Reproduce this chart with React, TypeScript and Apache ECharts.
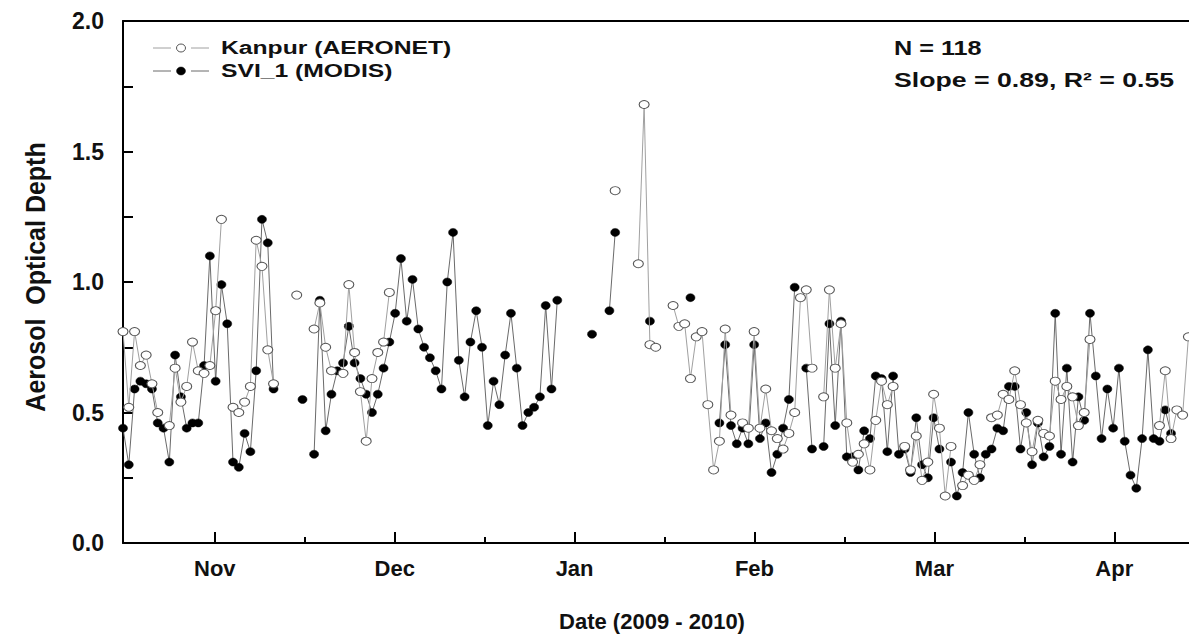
import React, { useEffect, useRef } from "react";
import * as echarts from "echarts";

// Day index (0 = first day on the axis) and AOD for each series
const aeronetDays = [0, 1, 2, 3, 4, 5, 6, 8, 9, 10, 11, 12, 13, 14, 15, 16, 17, 19, 20, 21, 22, 23, 24, 25, 26,
  30, 33, 34, 35, 36, 38, 39, 40, 41, 42, 43, 44, 45, 46,
  85, 89, 90, 91, 92, 95, 96, 97, 98, 99, 100, 101, 102, 103, 104, 105, 107, 108, 109, 110, 111, 112, 113, 114, 115, 116, 117, 118, 119,
  121, 122, 123, 124, 125, 126, 127, 128, 129, 130, 131, 132, 133, 135, 136, 137, 138, 139, 140, 141, 142, 143, 145, 146, 147, 148,
  150, 151, 152, 153, 154, 155, 156, 157, 158, 159, 160, 161, 162, 163, 164, 165, 166, 167,
  179, 180, 181, 182, 183, 184];
const aeronetAod = [0.81, 0.52, 0.81, 0.68, 0.72, 0.61, 0.50, 0.45, 0.67, 0.54, 0.60, 0.77, 0.66, 0.65, 0.68, 0.89, 1.24, 0.52, 0.50, 0.54, 0.60, 1.16, 1.06, 0.74, 0.61,
  0.95, 0.82, 0.92, 0.75, 0.66, 0.65, 0.99, 0.73, 0.58, 0.39, 0.63, 0.73, 0.77, 0.96,
  1.35, 1.07, 1.68, 0.76, 0.75, 0.91, 0.83, 0.84, 0.63, 0.79, 0.81, 0.53, 0.28, 0.39, 0.82, 0.49, 0.46, 0.44, 0.81, 0.44, 0.59, 0.43, 0.40, 0.36, 0.42, 0.50, 0.94, 0.97, 0.67,
  0.56, 0.97, 0.67, 0.84, 0.46, 0.31, 0.34, 0.38, 0.28, 0.47, 0.62, 0.53, 0.60, 0.37, 0.28, 0.41, 0.24, 0.31, 0.57, 0.44, 0.18, 0.37, 0.22, 0.26, 0.24, 0.30,
  0.48, 0.49, 0.57, 0.55, 0.66, 0.53, 0.46, 0.35, 0.47, 0.42, 0.41, 0.62, 0.55, 0.60, 0.56, 0.45, 0.50, 0.78,
  0.45, 0.66, 0.40, 0.51, 0.49, 0.79];

const modisDays = [0, 1, 2, 3, 4, 5, 6, 7, 8, 9, 10, 11, 12, 13, 14, 15, 16, 17, 18, 19, 20, 21, 22, 23, 24, 25, 26,
  31, 33, 34, 35, 36, 37, 38, 39, 40, 41, 42, 43, 44, 45, 46, 47, 48, 49, 50, 51, 52, 53, 54, 55, 56, 57, 58, 59, 60,
  61, 62, 63, 64, 65, 66, 67, 68, 69, 70, 71, 72, 73, 74, 75,
  81, 84, 85, 91, 98, 103, 104, 105, 106, 107, 108, 109, 110, 111, 112, 113, 114, 115, 116, 118, 119,
  121, 122, 123, 124, 125, 126, 127, 128, 129, 130, 131, 132, 133, 134, 135, 136, 137, 138, 139, 140, 141, 143, 144, 145,
  146, 147, 148, 149, 150, 151, 152, 153, 154, 155, 156, 157, 158, 159, 160, 161, 162, 163, 164, 165, 166, 167, 168, 169,
  170, 171, 172, 173, 174, 175, 176, 177, 178, 179, 180, 181];
const modisAod = [0.44, 0.30, 0.59, 0.62, 0.61, 0.59, 0.46, 0.44, 0.31, 0.72, 0.56, 0.44, 0.46, 0.46, 0.68, 1.10, 0.62, 0.99, 0.84, 0.31, 0.29, 0.42, 0.35, 0.66, 1.24, 1.15, 0.59,
  0.55, 0.34, 0.93, 0.43, 0.57, 0.66, 0.69, 0.83, 0.69, 0.63, 0.57, 0.50, 0.57, 0.67, 0.77, 0.88, 1.09, 0.85, 1.01, 0.82, 0.75, 0.71, 0.66, 0.59, 1.00, 1.19, 0.70, 0.56, 0.77,
  0.89, 0.75, 0.45, 0.62, 0.53, 0.72, 0.88, 0.67, 0.45, 0.50, 0.52, 0.56, 0.91, 0.59, 0.93,
  0.80, 0.89, 1.19, 0.85, 0.94, 0.46, 0.76, 0.45, 0.38, 0.44, 0.38, 0.76, 0.40, 0.46, 0.27, 0.34, 0.44, 0.55, 0.98, 0.67, 0.36,
  0.37, 0.84, 0.45, 0.85, 0.33, 0.33, 0.28, 0.43, 0.40, 0.64, 0.63, 0.35, 0.64, 0.34, 0.36, 0.27, 0.48, 0.30, 0.25, 0.48, 0.36, 0.31, 0.18, 0.27,
  0.50, 0.34, 0.25, 0.34, 0.36, 0.44, 0.43, 0.60, 0.60, 0.36, 0.50, 0.30, 0.46, 0.33, 0.37, 0.88, 0.34, 0.67, 0.31, 0.56, 0.47, 0.88, 0.64, 0.40,
  0.59, 0.44, 0.67, 0.39, 0.26, 0.21, 0.40, 0.74, 0.40, 0.39, 0.51, 0.42];

const monthLabels = ["Nov", "Dec", "Jan", "Feb", "Mar", "Apr"];
const seriesNames = ["Kanpur (AERONET)", "SVI_1 (MODIS)"];
const statsLines = ["N = 118", "Slope = 0.89, R² = 0.55"];

const DAY_COUNT = 185;
const X_MAX = 184.1;
const TICK_START = 15.85;
const TICK_STEP = 31.07;
const majorTicks = monthLabels.map((_, i) => TICK_START + i * TICK_STEP);
const minorTicks = monthLabels.slice(0, 5).map((_, i) => TICK_START + (i + 0.5) * TICK_STEP);

function toSeries(days: number[], vals: number[]) {
  const m = new Map<number, number>();
  days.forEach((d, i) => m.set(d, vals[i]));
  const out: any[] = [];
  for (let d = 0; d < DAY_COUNT; d++) out.push([d, m.has(d) ? m.get(d) : "-"]);
  return out;
}

const FONT = "'Liberation Sans', Arial, Helvetica, sans-serif";
const TEXT_COLOR = "#111";

const AERONET_LINE = "#a0a0a0";
const AERONET_BORDER = "#555";
const MODIS_LINE = "#6a6a6a";

function legendRow(y: number, name: string, filled: boolean) {
  const lineColor = filled ? MODIS_LINE : AERONET_LINE;
  return [
    { type: "line", shape: { x1: 153, y1: y, x2: 171, y2: y }, style: { stroke: lineColor, lineWidth: 1 } },
    {
      type: "ellipse",
      shape: { cx: 181, cy: y, rx: 4.5, ry: 4 },
      style: filled ? { fill: "#000", stroke: "#000", lineWidth: 0.5 } : { fill: "#fff", stroke: AERONET_BORDER, lineWidth: 1 },
    },
    { type: "line", shape: { x1: 191, y1: y, x2: 209, y2: y }, style: { stroke: lineColor, lineWidth: 1 } },
    {
      type: "text",
      x: 221,
      y,
      scaleX: 1.3,
      style: { text: name, fontFamily: FONT, fontWeight: "bold", fontSize: 19, fill: TEXT_COLOR, textVerticalAlign: "middle" },
    },
  ];
}

export default function App() {
  const ref = useRef<HTMLDivElement>(null);
  useEffect(() => {
    document.body.style.margin = "0";
    const chart = echarts.init(ref.current!, null, { renderer: "svg" });
    const axisLineStyle = { color: "#000", width: 2 };
    chart.setOption({
      animation: false,
      backgroundColor: "#fff",
      grid: { left: 123, right: 0, top: 21, bottom: 97, containLabel: false },
      xAxis: [
        {
          type: "value",
          min: 0,
          max: X_MAX,
          position: "bottom",
          splitLine: { show: false },
          axisLine: { lineStyle: axisLineStyle },
          axisTick: { inside: true, length: 11, customValues: majorTicks, lineStyle: { color: "#000", width: 2 } },
          axisLabel: {
            customValues: majorTicks,
            margin: 14,
            fontFamily: FONT,
            fontWeight: "bold",
            fontSize: 22,
            color: TEXT_COLOR,
            formatter: (v: number) => {
              const i = majorTicks.findIndex((t) => Math.abs(t - v) < 0.01);
              return i >= 0 ? monthLabels[i] : "";
            },
          },
        },
        {
          type: "value",
          min: 0,
          max: X_MAX,
          position: "bottom",
          splitLine: { show: false },
          axisLine: { show: false },
          axisTick: { inside: true, length: 6, customValues: minorTicks, lineStyle: { color: "#000", width: 2 } },
          axisLabel: { show: false },
        },
        {
          type: "value",
          min: 0,
          max: X_MAX,
          position: "top",
          splitLine: { show: false },
          axisLine: { lineStyle: axisLineStyle },
          axisTick: { show: false },
          axisLabel: { show: false },
        },
      ],
      yAxis: {
        type: "value",
        min: 0,
        max: 2,
        interval: 0.25,
        splitLine: { show: false },
        axisLine: { show: true, lineStyle: axisLineStyle },
        axisTick: { inside: true, length: 10, lineStyle: { color: "#000", width: 2 } },
        axisLabel: {
          margin: 19,
          fontFamily: FONT,
          fontWeight: "bold",
          fontSize: 23,
          color: TEXT_COLOR,
          formatter: (v: number) => (Math.round(v * 100) % 50 === 0 ? v.toFixed(1) : ""),
        },
      },
      graphic: [
        ...legendRow(48, seriesNames[0], false),
        ...legendRow(71, seriesNames[1], true),
        {
          type: "text",
          x: 36,
          y: 277,
          rotation: Math.PI / 2,
          scaleY: 1.1,
          style: {
            text: "Aerosol  Optical Depth",
            fontFamily: FONT,
            fontWeight: "bold",
            fontSize: 25,
            fill: TEXT_COLOR,
            textAlign: "center",
            textVerticalAlign: "middle",
          },
        },
        {
          type: "text",
          x: 652,
          y: 621,
          style: {
            text: "Date (2009 - 2010)",
            fontFamily: FONT,
            fontWeight: "bold",
            fontSize: 22,
            fill: TEXT_COLOR,
            textAlign: "center",
            textVerticalAlign: "middle",
          },
        },
        {
          type: "text",
          x: 894,
          y: 48,
          scaleX: 1.2,
          style: { text: statsLines[0], fontFamily: FONT, fontWeight: "bold", fontSize: 21, fill: TEXT_COLOR, textVerticalAlign: "middle" },
        },
        {
          type: "text",
          x: 894,
          y: 80,
          scaleX: 1.27,
          style: { text: statsLines[1], fontFamily: FONT, fontWeight: "bold", fontSize: 21, fill: TEXT_COLOR, textVerticalAlign: "middle" },
        },
      ],
      series: [
        {
          name: seriesNames[0],
          type: "line",
          xAxisIndex: 0,
          data: toSeries(aeronetDays, aeronetAod),
          connectNulls: false,
          symbol: "circle",
          symbolSize: [10, 8],
          showAllSymbol: true,
          lineStyle: { color: AERONET_LINE, width: 1 },
          itemStyle: { color: "#fff", borderColor: AERONET_BORDER, borderWidth: 1 },
          z: 3,
        },
        {
          name: seriesNames[1],
          type: "line",
          xAxisIndex: 0,
          data: toSeries(modisDays, modisAod),
          connectNulls: false,
          symbol: "circle",
          symbolSize: [9, 8],
          showAllSymbol: true,
          lineStyle: { color: MODIS_LINE, width: 1 },
          itemStyle: { color: "#000", borderColor: "#000", borderWidth: 0.5 },
          z: 2,
        },
      ],
    });
    return () => chart.dispose();
  }, []);
  return <div ref={ref} style={{ width: 1189, height: 640 }} />;
}
